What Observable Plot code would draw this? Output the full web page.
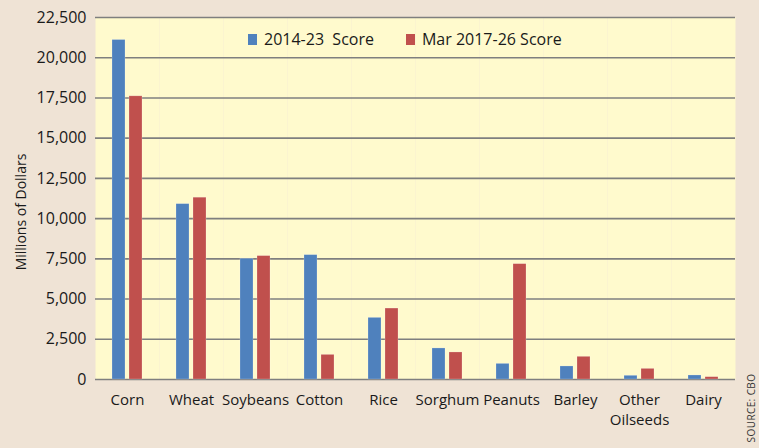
<!DOCTYPE html>
<html>
<head>
<meta charset="utf-8">
<script src="https://cdn.jsdelivr.net/npm/d3@7"></script>
<script src="https://cdn.jsdelivr.net/npm/@observablehq/plot@0.6"></script>
<style>
  html, body { margin: 0; padding: 0; background: #EFE3D5; }
  #wrap { position: relative; width: 759px; height: 448px; background: #EFE3D5; overflow: hidden; font-family: "Open Sans", sans-serif; color: #1a1a1a; }
  #legend { position: absolute; top: 28px; left: 248px; display: flex; gap: 0; font-size: 16px; line-height: 22px; }
  #legend .item { display: flex; align-items: center; white-space: pre; }
  #legend .sw { width: 9px; height: 11px; margin-right: 7px; }
  #ylabel { position: absolute; left: 20px; top: 212px; transform: translate(-50%, -50%) rotate(-90deg); font-size: 14px; white-space: nowrap; }
  #source { position: absolute; left: 751px; top: 408px; transform: translate(-50%, -50%) rotate(-90deg); font-size: 10px; white-space: nowrap; color: #333; letter-spacing: 0.4px; }
</style>
</head>
<body>
<div id="wrap">
  <div id="chart"></div>
  <div id="legend"></div>
  <div id="ylabel">Millions of Dollars</div>
  <div id="source">SOURCE: CBO</div>
</div>
<script>
const categories = ["Corn", "Wheat", "Soybeans", "Cotton", "Rice", "Sorghum", "Peanuts", "Barley", "Other Oilseeds", "Dairy"];
const seriesNames = ["2014-23  Score", "Mar 2017-26 Score"];
const score2014 = [21100, 10900, 7500, 7730, 3830, 1930, 970, 810, 230, 250];
const score2017 = [17600, 11300, 7670, 1530, 4410, 1680, 7170, 1410, 660, 145];
const colors = ["#4F81BD", "#C0504D"];
const yTicks = [0, 2500, 5000, 7500, 10000, 12500, 15000, 17500, 20000, 22500];
const tickLabels = {"Other Oilseeds": "Other\nOilseeds"};

const data = [];
categories.forEach((c, i) => {
  data.push({crop: c, series: seriesNames[0], value: score2014[i]});
  data.push({crop: c, series: seriesNames[1], value: score2017[i]});
});

const chart = Plot.plot({
  width: 759,
  height: 448,
  marginLeft: 95,
  marginRight: 24,
  marginTop: 17,
  marginBottom: 69,
  style: {fontFamily: "Open Sans, sans-serif", fontSize: "16px", color: "#1a1a1a", background: "transparent", overflow: "visible"},
  fx: {domain: categories, padding: 0, label: null},
  x: {domain: seriesNames, paddingInner: 0.2222, paddingOuter: 0.8889, axis: null},
  y: {domain: [0, 22500], label: null},
  color: {domain: seriesNames, range: colors},
  marks: [
    Plot.frame({fill: "#FFFACD", stroke: null}),
    Plot.ruleY(yTicks, {stroke: "#7f7f7f", strokeWidth: 1.6}),
    Plot.barY(data, {fx: "crop", x: "series", y: "value", fill: "series", stroke: "#ffffff", strokeOpacity: 0.35, strokeWidth: 0.6}),
    Plot.axisY({ticks: yTicks, tickFormat: d3.format(","), tickSize: 0, tickPadding: 9, label: null, fontSize: 16}),
    Plot.axisFx({anchor: "bottom", tickSize: 0, tickPadding: 12, label: null, fontSize: 15, lineHeight: 1.3, tickFormat: d => tickLabels[d] || d})
  ]
});
document.getElementById("chart").appendChild(chart);

const legend = document.getElementById("legend");
seriesNames.forEach((s, i) => {
  const item = document.createElement("div");
  item.className = "item";
  item.style.marginRight = i === 0 ? "32px" : "0";
  const sw = document.createElement("span");
  sw.className = "sw";
  sw.style.background = colors[i];
  item.appendChild(sw);
  item.appendChild(document.createTextNode(s));
  legend.appendChild(item);
});
</script>
</body>
</html>
